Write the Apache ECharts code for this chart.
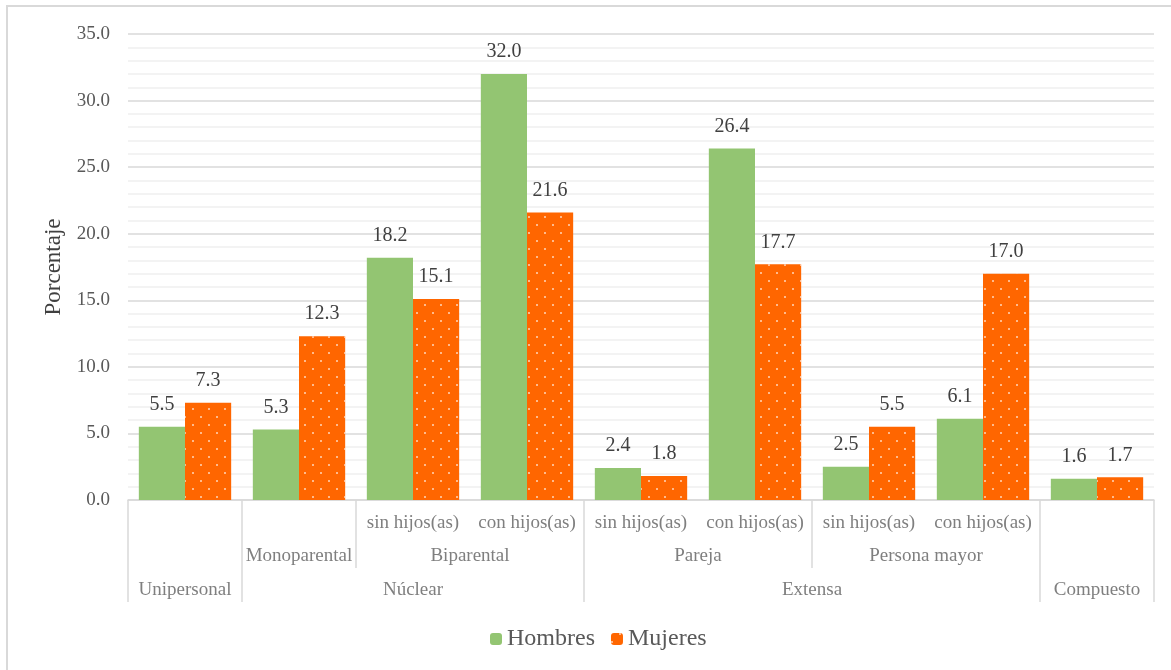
<!DOCTYPE html>
<html>
<head>
<meta charset="utf-8">
<script src="https://cdn.jsdelivr.net/npm/echarts@6/dist/echarts.min.js"></script>
<style>
  html, body { margin: 0; padding: 0; background: #fff; overflow: hidden; }
  #chart { position: absolute; left: 0; top: 0; width: 1171px; height: 670px; }
  #frame { position: absolute; left: 6px; top: 5px; width: 1300px; height: 800px;
           border: 2px solid #d9d9d9; box-sizing: border-box; pointer-events: none; }
</style>
</head>
<body>
<div id="chart"></div>
<div id="frame"></div>
<script>
// ---- data ----
const level1 = ['', '', 'sin hijos(as)', 'con hijos(as)', 'sin hijos(as)', 'con hijos(as)', 'sin hijos(as)', 'con hijos(as)', ''];
const level2 = ['', 'Monoparental', 'Biparental', 'Biparental', 'Pareja', 'Pareja', 'Persona mayor', 'Persona mayor', ''];
const level3 = ['Unipersonal', 'Núclear', 'Núclear', 'Núclear', 'Extensa', 'Extensa', 'Extensa', 'Extensa', 'Compuesto'];
const hombres = [5.5, 5.3, 18.2, 32.0, 2.4, 26.4, 2.5, 6.1, 1.6];
const mujeres = [7.3, 12.3, 15.1, 21.6, 1.8, 17.7, 5.5, 17.0, 1.7];
const seriesNames = ['Hombres', 'Mujeres'];
const yTicks = [0, 5, 10, 15, 20, 25, 30, 35];

// ---- derived structure ----
const n = level1.length;
const leafKeys = level1.map((v, i) => level3[i] + '|' + level2[i] + '|' + v + '|' + i);
function runs(keys, names) {
  const out = [];
  let s = 0;
  for (let i = 1; i <= keys.length; i++) {
    if (i === keys.length || keys[i] !== keys[s]) {
      out.push({ name: names[s], start: s, end: i });
      s = i;
    }
  }
  return out;
}
const runs3 = runs(level3, level3);
const runs2 = runs(level2.map((v, i) => level3[i] + '|' + v), level2);
const fullSep = Array.from(new Set(runs3.flatMap(r => [r.start, r.end]))).sort((a, b) => a - b);
const partSep = Array.from(new Set(runs2.flatMap(r => [r.start, r.end]))).filter(v => fullSep.indexOf(v) < 0);
const lab2 = {}; runs2.filter(r => r.name).forEach(r => { lab2[(r.start + r.end) / 2] = r.name; });
const lab3 = {}; runs3.filter(r => r.name).forEach(r => { lab3[(r.start + r.end) / 2] = r.name; });

const FONT = "'Liberation Serif', 'Times New Roman', serif";
const catColor = '#7f7f7f';
const sepColor = '#d9d9d9';

function helperAxis(extra) {
  return Object.assign({
    type: 'value', gridIndex: 0, position: 'bottom', min: 0, max: n,
    axisLine: { show: false }, splitLine: { show: false },
    axisTick: { show: false }, axisLabel: { show: false }
  }, extra);
}

const chart = echarts.init(document.getElementById('chart'), null, { renderer: 'canvas' });
chart.setOption({
  animation: false,
  textStyle: { fontFamily: FONT },
  grid: { left: 128, right: 17, top: 34, bottom: 170, containLabel: false },
  legend: {
    data: seriesNames, top: 622, left: 485,
    itemWidth: 12, itemHeight: 12, itemGap: 16,
    textStyle: { fontSize: 24, color: '#595959', fontFamily: FONT }
  },
  xAxis: [
    {
      type: 'category', data: leafKeys, position: 'bottom',
      axisLine: { show: true, lineStyle: { color: sepColor, width: 1.5 } },
      axisTick: { show: false },
      axisLabel: { interval: 0, margin: 14, fontSize: 19, color: catColor, fontFamily: FONT,
                   formatter: (v, i) => level1[i] }
    },
    helperAxis({ axisTick: { show: true, customValues: fullSep, length: 102,
                             lineStyle: { color: sepColor, width: 1.5 } } }),
    helperAxis({ axisTick: { show: true, customValues: partSep, length: 68,
                             lineStyle: { color: sepColor, width: 1.5 } } }),
    helperAxis({ axisLabel: { show: true, customValues: Object.keys(lab2).map(Number), margin: 47,
                              fontSize: 19, color: catColor, fontFamily: FONT,
                              formatter: v => lab2[v] || '' } }),
    helperAxis({ axisLabel: { show: true, customValues: Object.keys(lab3).map(Number), margin: 81,
                              fontSize: 19, color: catColor, fontFamily: FONT,
                              formatter: v => lab3[v] || '' } })
  ],
  yAxis: {
    type: 'value', min: yTicks[0], max: yTicks[yTicks.length - 1], interval: yTicks[1] - yTicks[0],
    name: 'Porcentaje', nameLocation: 'middle', nameGap: 57, nameRotate: 90,
    nameTextStyle: { fontSize: 23, color: '#404040', fontFamily: FONT },
    axisLine: { show: false }, axisTick: { show: false },
    axisLabel: { margin: 18, fontSize: 19, color: '#595959', fontFamily: FONT,
                 formatter: v => v.toFixed(1) },
    splitLine: { show: true, lineStyle: { color: '#d9d9d9', width: 1.5 } },
    minorTick: { show: false, splitNumber: 5 },
    minorSplitLine: { show: true, lineStyle: { color: '#f0f0f0', width: 1.5 } }
  },
  series: [
    {
      name: seriesNames[0], type: 'bar', xAxisIndex: 0, data: hombres,
      barGap: '0%', barCategoryGap: '19%',
      itemStyle: { color: '#93c572' },
      label: { show: true, position: 'top', distance: 12, fontSize: 20, color: '#404040',
               fontFamily: FONT, formatter: p => p.value.toFixed(1) }
    },
    {
      name: seriesNames[1], type: 'bar', xAxisIndex: 0, data: mujeres,
      barGap: '0%', barCategoryGap: '19%',
      itemStyle: {
        color: '#ff6600',
        decal: {
          symbol: 'rect', symbolSize: 1, color: 'rgba(255,255,255,0.55)',
          dashArrayX: [[2, 14], [0, 8, 2, 6]], dashArrayY: [2, 6], rotation: 0
        }
      },
      label: { show: true, position: 'top', distance: 12, fontSize: 20, color: '#404040',
               fontFamily: FONT, formatter: p => p.value.toFixed(1) }
    }
  ]
});
</script>
</body>
</html>
